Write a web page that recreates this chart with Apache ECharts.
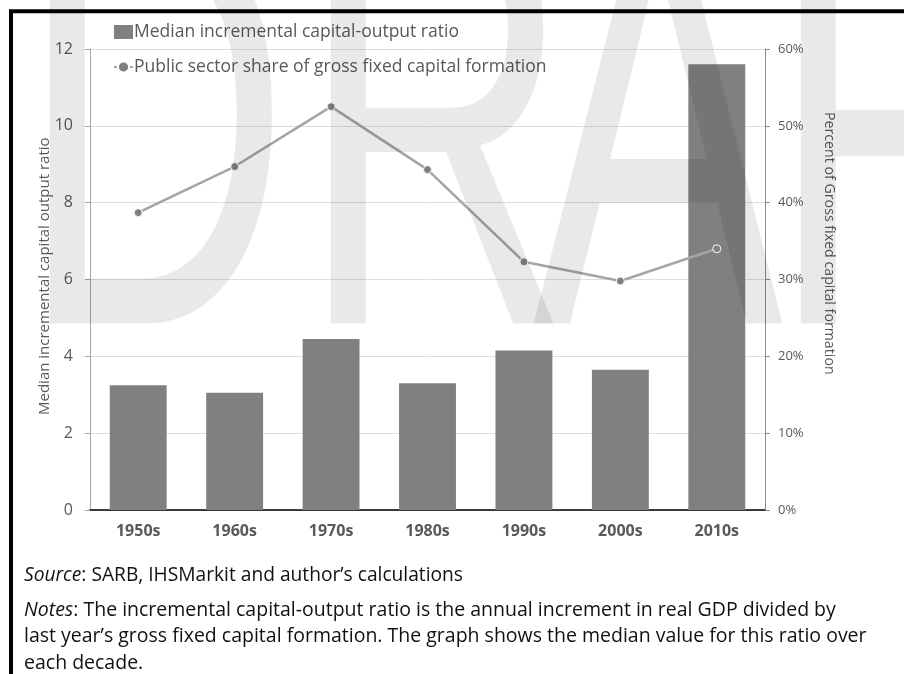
<!DOCTYPE html>
<html>
<head>
<meta charset="utf-8">
<script src="https://cdn.jsdelivr.net/npm/echarts@6/dist/echarts.min.js"></script>
<style>
  html, body { margin: 0; padding: 0; background: #fff; }
  #chart { width: 904px; height: 674px; }
</style>
</head>
<body>
<div id="chart"></div>
<script>
// Decades on the category axis
const decades = ['1950s', '1960s', '1970s', '1980s', '1990s', '2000s', '2010s'];
// Median incremental capital-output ratio per decade (left axis)
const icorMedian = [3.25, 3.05, 4.45, 3.3, 4.15, 3.65, 11.6];
// Public sector share of gross fixed capital formation, % (right axis)
const publicShare = [38.7, 44.7, 52.5, 44.3, 32.3, 29.8, 34.0];

const barName = 'Median incremental capital-output ratio';
const lineName = 'Public sector share of gross fixed capital formation';

const FONT = '"Open Sans", "Noto Sans", sans-serif';
const GREY_TEXT = '#595959';

// Large translucent "DRAFT" stamp across the page, one glyph per element
const stampLetters = ['D', 'R', 'A', 'F'];
const stampX = [19, 300, 533, 770];

const chart = echarts.init(document.getElementById('chart'), null, { renderer: 'canvas' });

const stamp = stampLetters.map((ch, i) => ({
  type: 'text', x: stampX[i], y: 458, scaleY: 1.6, z: 100, silent: true,
  style: {
    text: ch, font: '375px "Liberation Sans", Arial, sans-serif',
    fill: 'rgba(0,0,0,0.085)', verticalAlign: 'bottom', textVerticalAlign: 'bottom'
  }
}));

const option = {
  backgroundColor: '#ffffff',
  animation: false,
  textStyle: { fontFamily: FONT },
  grid: { left: 90, right: 139, top: 49, bottom: 164, containLabel: false },
  legend: {
    orient: 'vertical',
    left: 113,
    top: 23,
    padding: 0,
    itemGap: 17,
    itemWidth: 19,
    itemHeight: 14,
    textStyle: { color: GREY_TEXT, fontSize: 17.5, fontFamily: FONT, padding: [0, 0, 0, -4] },
    data: [
      { name: barName, icon: 'rect' },
      { name: lineName }
    ]
  },
  xAxis: {
    type: 'category',
    data: decades,
    axisLine: { show: true, lineStyle: { color: '#000', width: 1.5 } },
    axisTick: { show: false },
    axisLabel: { color: GREY_TEXT, fontSize: 16, fontWeight: 'bold', margin: 13 }
  },
  yAxis: [
    {
      type: 'value',
      min: 0, max: 12, interval: 2,
      axisLine: { show: true, lineStyle: { color: '#a6a6a6' } },
      axisTick: { show: true, length: 5, lineStyle: { color: '#a6a6a6' } },
      axisLabel: { color: GREY_TEXT, fontSize: 16, margin: 17 },
      splitLine: { show: true, lineStyle: { color: '#dedede' } }
    },
    {
      type: 'value',
      min: 0, max: 60, interval: 10,
      axisLine: { show: true, lineStyle: { color: '#8c8c8c' } },
      axisTick: { show: true, length: 5, lineStyle: { color: '#8c8c8c' } },
      axisLabel: { color: GREY_TEXT, fontSize: 13, margin: 13, formatter: '{value}%' },
      splitLine: { show: false }
    }
  ],
  series: [
    {
      name: barName,
      type: 'bar',
      data: icorMedian,
      yAxisIndex: 0,
      barCategoryGap: '41%',
      itemStyle: { color: '#808080' }
    },
    {
      name: lineName,
      type: 'line',
      data: publicShare,
      yAxisIndex: 1,
      symbol: 'circle',
      symbolSize: 8,
      lineStyle: { color: '#a5a5a5', width: 2.5 },
      itemStyle: { color: '#7f7f7f', borderColor: '#ffffff', borderWidth: 1 },
      z: 5
    }
  ],
  graphic: [
    // axis titles
    {
      type: 'text', x: 37, y: 415, rotation: Math.PI / 2,
      style: { text: 'Median incremental capital output ratio', fill: GREY_TEXT, font: '15px ' + FONT }
    },
    {
      type: 'text', x: 836, y: 112, rotation: -Math.PI / 2,
      style: { text: 'Percent of Gross fixed capital formation', fill: GREY_TEXT, font: '14.2px ' + FONT }
    },
    // source and notes
    {
      type: 'text', x: 24, y: 566,
      style: {
        text: '{i|Source}: SARB, IHSMarkit and author\u2019s calculations',
        fill: '#111', font: '19.2px ' + FONT,
        rich: { i: { fontStyle: 'italic', fontSize: 19.2, fontFamily: FONT, fill: '#111' } }
      }
    },
    {
      type: 'text', x: 24, y: 597,
      style: {
        text: '{i|Notes}: The incremental capital-output ratio is the annual increment in real GDP divided by\n' +
              'last year\u2019s gross fixed capital formation. The graph shows the median value for this ratio over\n' +
              'each decade.',
        fill: '#111', font: '19.5px ' + FONT, lineHeight: 26.5,
        rich: { i: { fontStyle: 'italic', fontSize: 19.5, fontFamily: FONT, fill: '#111', lineHeight: 26.5 } }
      }
    },
    // page frame
    { type: 'rect', shape: { x: 11, y: 11.3, width: 1000, height: 800 }, style: { fill: 'none', stroke: '#000', lineWidth: 4 }, z: 50 }
  ].concat(stamp)
};

chart.setOption(option);
</script>
</body>
</html>
